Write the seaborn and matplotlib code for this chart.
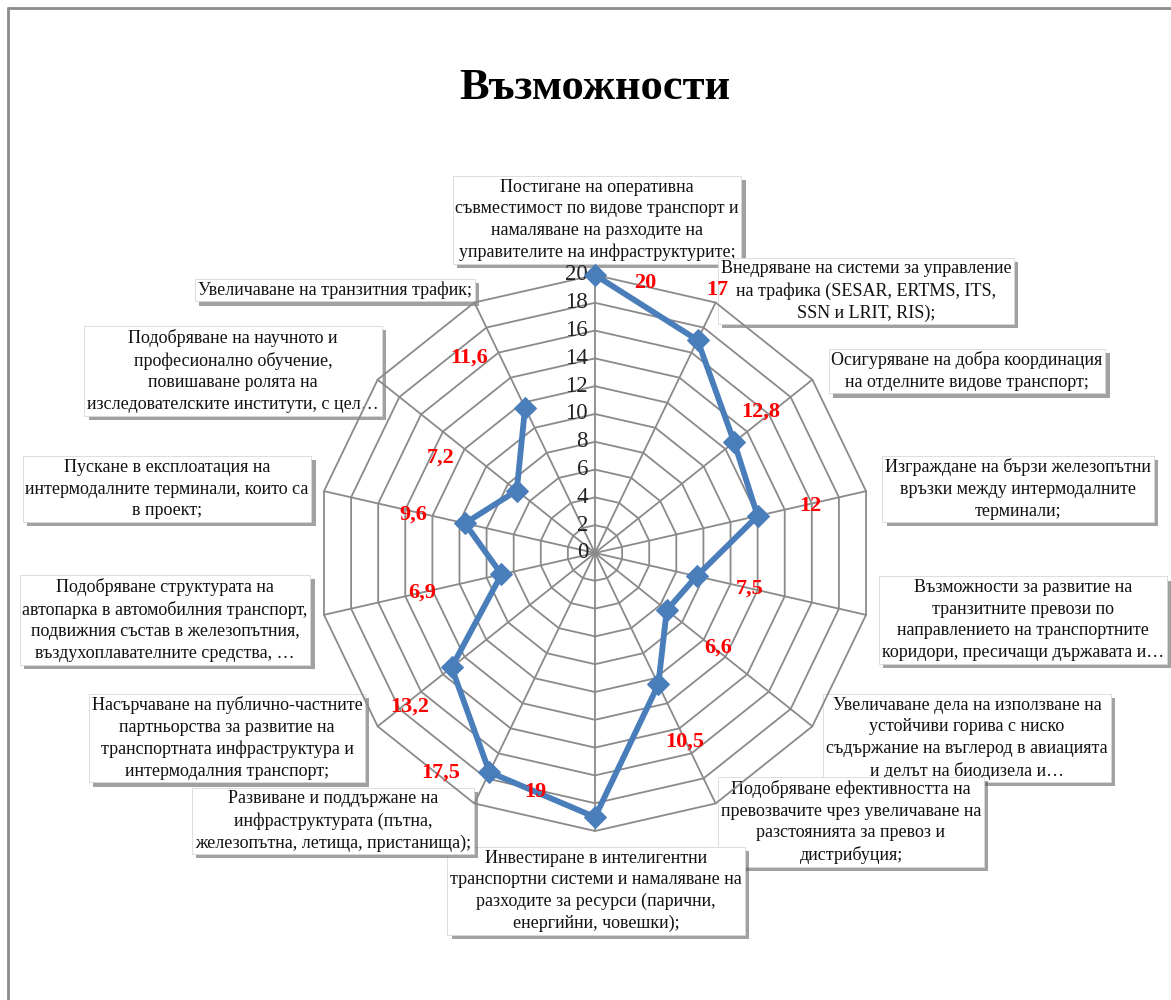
import numpy as np
import pandas as pd
import matplotlib
matplotlib.use('Agg')
import matplotlib.pyplot as plt
import matplotlib.patheffects as pe
from matplotlib.lines import Line2D
import seaborn as sns

categories = [
    'Постигане на оперативна\nсъвместимост по видове транспорт и\nнамаляване на разходите на\nуправителите на инфраструктурите;',
    'Внедряване на системи за управление\nна трафика (SESAR, ERTMS, ITS,\nSSN и LRIT, RIS);',
    'Осигуряване на добра координация\nна отделните видове транспорт;',
    'Изграждане на бързи железопътни\nвръзки между интермодалните\nтерминали;',
    'Възможности за развитие на\nтранзитните превози по\nнаправлението на транспортните\nкоридори, пресичащи държавата и…',
    'Увеличаване дела на използване на\nустойчиви горива с ниско\nсъдържание на въглерод в авиацията\nи делът на биодизела и…',
    'Подобряване ефективността на\nпревозвачите чрез увеличаване на\nразстоянията за превоз и\nдистрибуция;',
    'Инвестиране в интелигентни\nтранспортни системи и намаляване на\nразходите за ресурси (парични,\nенергийни, човешки);',
    'Развиване и поддържане на\nинфраструктурата (пътна,\nжелезопътна, летища, пристанища);',
    'Насърчаване на публично-частните\nпартньорства за развитие на\nтранспортната инфраструктура и\nинтермодалния транспорт;',
    'Подобряване структурата на\nавтопарка в автомобилния транспорт,\nподвижния състав в железопътния,\nвъздухоплавателните средства, …',
    'Пускане в експлоатация на\nинтермодалните терминали, които са\nв проект;',
    'Подобряване на научното и\nпрофесионално обучение,\nповишаване ролята на\nизследователските институти, с цел…',
    'Увеличаване на транзитния трафик;',
]
values = [20, 17, 12.8, 12, 7.5, 6.6, 10.5, 19, 17.5, 13.2, 6.9, 9.6, 7.2, 11.6]
value_labels = ['20', '17', '12,8', '12', '7,5', '6,6', '10,5', '19', '17,5', '13,2', '6,9', '9,6', '7,2', '11,6']
r_ticks = [0, 2, 4, 6, 8, 10, 12, 14, 16, 18, 20]

# placement (figure pixels for label boxes, point offsets for value labels)
box_centers = [(597, 220), (866, 291), (967, 371), (1018, 489), (1023, 620), (967, 738),
               (851, 822), (596, 891), (333, 821), (227, 738), (165, 620), (167, 489),
               (233, 371), (335, 290)]
val_offsets = [(36, -6), (14, 36), (19, 22), (38, 7), (38, -9), (37, -27), (19, -41),
               (-43, 18), (-35, 0), (-30, -28), (-57, -13), (-37, 6), (-55, 24), (-40, 36)]

sns.set_style('white')
plt.rcParams['font.family'] = ['Liberation Serif', 'DejaVu Serif']

W, H = 1171, 1000
fig = plt.figure(figsize=(W / 100, H / 100), dpi=100)

cx, cy, R = 595, 553, 278
ax = fig.add_axes([(cx - R) / W, (H - cy - R) / H, 2 * R / W, 2 * R / H], projection='polar')
ax.set_theta_offset(np.pi / 2)
ax.set_theta_direction(-1)
ax.set_ylim(0, 20)
ax.grid(False)
ax.spines['polar'].set_visible(False)
ax.set_xticks([])
ax.set_yticks([])
ax.patch.set_alpha(0)

n = len(values)
theta = np.arange(n) * 2 * np.pi / n
grid_c = '#8a8a8a'
th_closed = np.append(theta, theta[0])
for r in r_ticks[1:]:
    ax.plot(th_closed, [r] * (n + 1), color=grid_c, lw=1.3, zorder=1, clip_on=False)
for t in theta:
    ax.plot([t, t], [0, 20], color=grid_c, lw=1.3, zorder=1, clip_on=False)

df = pd.DataFrame({'theta': th_closed, 'value': values + values[:1]})
sns.lineplot(data=df, x='theta', y='value', sort=False, ax=ax, color='#4a7ebb', lw=4.2,
             marker='D', markersize=11, markeredgecolor='#4a7ebb', zorder=3, clip_on=False)
ax.set_xlabel('')
ax.set_ylabel('')

for r in r_ticks:
    ax.annotate(str(r), (0, r), xytext=(-5, 0), textcoords='offset points',
                ha='right', va='center', fontsize=16.5, color='#222222', zorder=2)

for t, v, lab, off in zip(theta, values, value_labels, val_offsets):
    ax.annotate(lab, (t, v), xytext=off, textcoords='offset points', ha='center', va='center',
                fontsize=16, fontweight='bold', color='#ff0000', zorder=4)

# category boxes sit under the chart, as in the original
for lab, (bx, by) in zip(categories, box_centers):
    t = fig.text(bx / W, 1 - by / H, lab, ha='center', va='center', fontsize=13,
                 linespacing=1.35, color='#111111', zorder=-1,
                 bbox=dict(boxstyle='square,pad=0.15', fc='white', ec='#d8d8d8', lw=0.6))
    t.get_bbox_patch().set_path_effects([
        pe.SimplePatchShadow(offset=(3, -3), shadow_rgbFace='#555555', alpha=0.55),
        pe.Normal()])

fig.text(595 / W, 1 - 88 / H, 'Възможности', ha='center', va='center',
         fontsize=32, fontweight='bold', color='black')

fig.add_artist(Line2D([8 / W, 1], [1 - 8 / H, 1 - 8 / H], color='#8c8c8c', lw=2))
fig.add_artist(Line2D([8 / W, 8 / W], [0, 1 - 8 / H], color='#8c8c8c', lw=2))

fig.savefig('out.png', dpi=100, facecolor='white')
